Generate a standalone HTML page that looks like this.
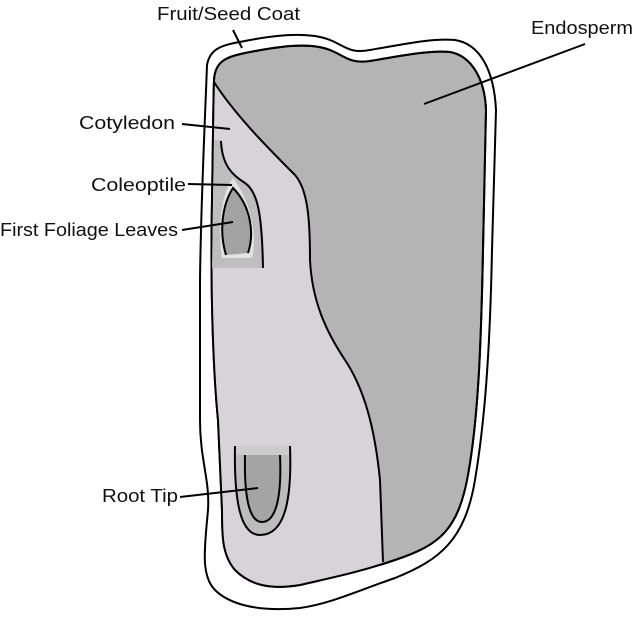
<!DOCTYPE html>
<html><head><style>
body{margin:0;background:#fff;}
svg{display:block}
text{font-family:"Liberation Sans",sans-serif;font-size:18px;fill:#111}
</style></head><body>
<svg width="638" height="617" viewBox="0 0 638 617">
<path d="M207,65 C210,48 222,45 245,41 C280,34 310,32 330,40 C345,46 350,54 370,50 C400,45 430,38 455,40 C480,44 494,70 496,110 L492,250 C490,350 485,420 475,480 C465,540 440,560 395,578 C360,590 330,604 300,608 C260,612 230,605 215,590 C200,575 205,545 208,510 C210,480 200,460 200,420 L200,280 C201,200 205,120 207,65 Z" fill="#fff" stroke="#000" stroke-width="2"/>
<path d="M214,80 C215,62 225,57 245,53 C280,46 310,42 330,50 C345,56 350,64 370,61 C400,56 430,50 450,52 C472,56 485,80 486,110 L483,250 C481,350 478,420 468,475 C458,530 440,545 395,560 C360,572 330,578 300,585 C270,590 250,585 235,570 C222,555 222,535 222,510 L218,420 C214,380 210,300 212,200 C213,150 213,110 214,80 Z" fill="#b4b4b4" stroke="#000" stroke-width="2"/>
<path d="M214,82 C235,115 270,150 295,175 C308,190 310,220 310,260 C312,300 325,330 345,360 C365,390 375,430 380,480 L383,562 C360,572 330,578 300,585 C270,590 250,585 235,570 C222,555 222,535 222,510 L218,420 C214,380 210,300 212,200 C213,150 213,110 214,82 Z" fill="#d6d4d6" stroke="none"/>
<path d="M214,82 C235,115 270,150 295,175 C308,190 310,220 310,260 C312,300 325,330 345,360 C365,390 375,430 380,480 L383,562" fill="none" stroke="#000" stroke-width="2"/>
<path d="M214,80 C215,62 225,57 245,53 C280,46 310,42 330,50 C345,56 350,64 370,61 C400,56 430,50 450,52 C472,56 485,80 486,110 L483,250 C481,350 478,420 468,475 C458,530 440,545 395,560 C360,572 330,578 300,585 C270,590 250,585 235,570 C222,555 222,535 222,510 L218,420 C214,380 210,300 212,200 C213,150 213,110 214,80 Z" fill="none" stroke="#000" stroke-width="2"/>
<path d="M214,140 L221,140 C222,165 232,175 245,183 C258,192 262,215 263,268 L212,268 Z" fill="#bebebe"/>
<path d="M221,141 C222,165 232,175 245,183 C258,192 262,215 263,268" fill="none" stroke="#000" stroke-width="2"/>
<path d="M233,178 C220,195 218,230 222,258 L252,258 C258,235 250,200 233,178 Z" fill="#e2e2e2"/>
<path d="M233,188 C222,205 219,232 226,255 L248,253 C255,232 250,205 233,188 Z" fill="#a2a2a2"/>
<path d="M226,255 C219,232 222,205 233,188 C250,205 255,232 248,253" fill="none" stroke="#000" stroke-width="2"/>
<path d="M235,446 L290,446 C292,500 285,535 260,535 C240,535 234,500 235,446 Z" fill="#bcbcbc"/>
<path d="M245,455 L280,455 C282,500 275,522 262,522 C250,522 244,500 245,455 Z" fill="#a4a4a4"/>
<rect x="236" y="446" width="54" height="9" fill="#cccccc"/>
<path d="M235,446 C234,500 240,535 260,535 C285,535 292,500 290,446" fill="none" stroke="#000" stroke-width="2"/>
<path d="M245,455 C244,500 250,522 262,522 C275,522 282,500 280,455" fill="none" stroke="#000" stroke-width="2"/>
<g stroke="#000" stroke-width="2">
<line x1="233" y1="30" x2="242" y2="48"/>
<line x1="585" y1="44" x2="424" y2="104"/>
<line x1="182" y1="124" x2="230" y2="129"/>
<line x1="188" y1="184" x2="232" y2="185"/>
<line x1="182" y1="230" x2="233" y2="222"/>
<line x1="180" y1="497" x2="258" y2="488"/>
</g>
<text x="157" y="20" textLength="143" lengthAdjust="spacingAndGlyphs">Fruit/Seed Coat</text>
<text x="531" y="34" textLength="102" lengthAdjust="spacingAndGlyphs">Endosperm</text>
<text x="79" y="129" textLength="96" lengthAdjust="spacingAndGlyphs">Cotyledon</text>
<text x="91" y="191" textLength="95" lengthAdjust="spacingAndGlyphs">Coleoptile</text>
<text x="0" y="236" textLength="178" lengthAdjust="spacingAndGlyphs">First Foliage Leaves</text>
<text x="102" y="502" textLength="76" lengthAdjust="spacingAndGlyphs">Root Tip</text>
</svg>
</body></html>
